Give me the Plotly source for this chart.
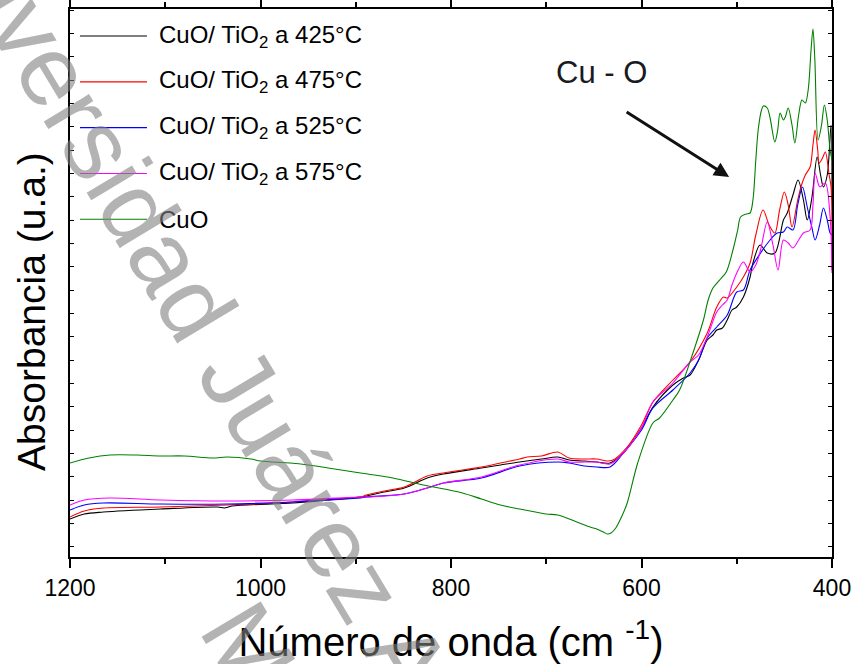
import plotly.graph_objects as go

# ---------------- data ----------------
wn_425 = [1200, 1185, 1165, 1105, 1045, 1038, 1030, 966, 930, 895, 889, 870, 849, 825, 808, 768, 748, 728, 705, 688,
          676, 660, 647, 633, 619, 600, 588, 567, 556, 549, 540, 531, 525, 521, 515, 510, 505, 500, 493, 486,
          483, 475.5, 468, 460, 451, 447, 441, 435.6, 430, 426, 421, 415.6, 412, 409, 405, 401, 400]
ab_425 = [0.38, 0.43, 0.45, 0.48, 0.50, 0.49, 0.51, 0.54, 0.57, 0.60, 0.61, 0.65, 0.69, 0.79, 0.83, 0.89, 0.92, 0.95, 0.98, 1.00,
          0.97, 0.96, 0.95, 0.94, 1.04, 1.29, 1.50, 1.72, 1.79, 1.82, 1.97, 2.17, 2.22, 2.27, 2.29, 2.37, 2.47, 2.50, 2.60, 2.80,
          2.94, 3.12, 3.04, 3.04, 3.37, 3.44, 3.62, 3.77, 3.57, 3.37, 3.60, 4.00, 3.82, 3.70, 3.82, 4.32, 3.57]

wn_475 = [1200, 1185, 1165, 1105, 1035, 966, 930, 895, 889, 870, 849, 825, 808, 768, 748, 728, 720, 705, 688, 676,
          660, 647, 636, 630, 615, 600, 588, 567, 549, 531, 521, 514, 510, 500, 493, 486, 480, 472.4, 466, 460,
          455, 450, 446, 442, 436, 432, 428, 423, 420, 417.75, 415, 413.5, 410, 407, 403, 401, 400]
ab_475 = [0.40, 0.46, 0.49, 0.50, 0.52, 0.55, 0.58, 0.60, 0.62, 0.66, 0.70, 0.81, 0.84, 0.90, 0.94, 0.98, 1.00, 1.01, 1.05, 0.99,
          0.98, 0.98, 0.96, 0.97, 1.10, 1.32, 1.55, 1.77, 1.95, 2.24, 2.50, 2.60, 2.59, 2.70, 2.80, 2.94, 3.22, 3.47, 3.32, 3.24,
          3.47, 3.65, 3.52, 3.30, 3.57, 3.72, 3.82, 3.90, 4.12, 4.27, 4.07, 3.94, 3.99, 4.05, 3.82, 3.70, 2.87]

wn_525 = [1200, 1185, 1165, 1105, 1035, 966, 930, 895, 889, 849, 825, 808, 768, 728, 688, 676, 660, 647, 633, 619,
          600, 588, 567, 549, 540, 531, 521, 510, 500, 493, 486, 475, 465, 457.6, 451, 447, 441, 436, 431, 426,
          421, 417.75, 413, 409, 405, 402, 400]
ab_525 = [0.47, 0.52, 0.54, 0.53, 0.53, 0.55, 0.57, 0.59, 0.60, 0.63, 0.69, 0.74, 0.79, 0.91, 0.95, 0.94, 0.91, 0.90, 0.90, 1.04,
          1.27, 1.49, 1.67, 1.84, 1.97, 2.19, 2.30, 2.42, 2.65, 2.67, 2.87, 3.04, 3.17, 3.24, 3.25, 3.30, 3.27, 3.52, 3.70, 3.50,
          3.29, 3.17, 3.32, 3.49, 3.37, 3.24, 3.22]

wn_575 = [1200, 1185, 1158, 1105, 1035, 966, 895, 889, 849, 825, 808, 768, 728, 688, 676, 660, 647, 633, 619, 600,
          588, 567, 549, 540, 531, 521, 515, 510, 505, 500, 493, 486, 480, 475, 468, 462, 456.6, 451, 446, 441,
          435, 430, 423, 420, 417.75, 414, 412.5, 407, 402, 400]
ab_575 = [0.52, 0.57, 0.59, 0.57, 0.56, 0.57, 0.60, 0.60, 0.63, 0.69, 0.74, 0.80, 0.92, 0.98, 0.95, 0.95, 0.95, 0.93, 1.04, 1.29,
          1.55, 1.74, 1.95, 2.02, 2.20, 2.45, 2.52, 2.57, 2.72, 2.84, 2.95, 2.85, 2.92, 3.07, 3.35, 3.12, 2.87, 3.17, 3.14, 3.09,
          3.17, 3.24, 3.27, 3.52, 3.84, 3.72, 3.70, 3.74, 3.40, 2.84]

wn_cuo = [1200, 1180, 1158, 1130, 1105, 1080, 1050, 1035, 1010, 1000, 969, 950, 929, 895, 861, 829, 788, 768, 748, 728,
          700, 688, 668, 654, 647, 640, 636, 632, 627, 621, 615, 604, 588, 581, 567, 560, 546, 535, 530, 525,
          517, 511, 504, 499, 496, 490, 486, 483, 480, 477.5, 474, 472, 468, 465, 460, 457, 454.5, 451, 449, 446,
          442, 439, 435, 431.5, 428, 425, 422, 420, 418, 414.6, 411, 408, 405, 402, 400]
ab_cuo = [0.94, 0.99, 1.02, 1.02, 1.01, 1.01, 0.99, 1.00, 0.98, 0.96, 0.94, 0.92, 0.89, 0.84, 0.79, 0.72, 0.64, 0.58, 0.52, 0.48,
          0.43, 0.42, 0.35, 0.30, 0.28, 0.25, 0.23, 0.24, 0.29, 0.40, 0.54, 0.94, 1.34, 1.39, 1.57, 1.67, 2.04, 2.37, 2.57, 2.69,
          2.78, 2.85, 3.07, 3.27, 3.40, 3.43, 3.44, 3.57, 3.97, 4.27, 4.47, 4.51, 4.49, 4.39, 4.15, 4.27, 4.44, 4.37, 4.40, 4.49,
          4.32, 4.14, 4.42, 4.57, 4.54, 4.67, 5.07, 5.28, 4.97, 4.17, 4.32, 4.52, 4.37, 4.07, 3.97]

series_names = ["CuO/ TiO<sub>2</sub> a 425°C", "CuO/ TiO<sub>2</sub> a 475°C",
                "CuO/ TiO<sub>2</sub> a 525°C", "CuO/ TiO<sub>2</sub> a 575°C", "CuO"]
series_x = [wn_425, wn_475, wn_525, wn_575, wn_cuo]
series_y = [ab_425, ab_475, ab_525, ab_575, ab_cuo]
series_colors = ["#000000", "#FF0000", "#0000FF", "#FF00FF", "#008000"]

x_ticks = [1200, 1000, 800, 600, 400]
x_range = [1200, 400]
y_range = [0, 5.48]

FONT = "Liberation Sans, Arial, sans-serif"

fig = go.Figure()
for name, xs, ys, col in zip(series_names, series_x, series_y, series_colors):
    fig.add_trace(go.Scatter(x=xs, y=ys, mode="lines", name=name,
                             line=dict(color=col, width=1.1, shape="spline", smoothing=0.9),
                             showlegend=False))

# manual legend (long line samples like the original)
row0, row_gap = 0.9507, 0.0836
for i, (name, col) in enumerate(zip(series_names, series_colors)):
    yy = row0 - i * row_gap
    fig.add_shape(type="line", xref="paper", yref="paper", x0=0.0131, x1=0.101, y0=yy, y1=yy,
                  line=dict(color=col, width=1.1))
    fig.add_annotation(xref="paper", yref="paper", x=0.1142, y=yy, xanchor="left", yanchor="middle",
                       text=name, showarrow=False, font=dict(family=FONT, size=24, color="black"))

# Cu - O label and arrow
fig.add_annotation(x=642, y=4.85, xref="x", yref="y", text="Cu - O", showarrow=False,
                   font=dict(family=FONT, size=31, color="#1a1a22"))
fig.add_annotation(x=508, y=3.80, xref="x", yref="y", text="", showarrow=True,
                   ax=-104, ay=-66, arrowhead=2, arrowsize=1, arrowwidth=3, arrowcolor="#111111")

# y axis title
fig.add_annotation(xref="paper", yref="paper", x=-0.0499, y=0.449, xanchor="center", yanchor="middle",
                   text="Absorbancia (u.a.)", textangle=-90, showarrow=False,
                   font=dict(family=FONT, size=39, color="black"))

# watermark
fig.add_annotation(xref="paper", yref="paper", x=0.387, y=-0.2865, xanchor="center", yanchor="middle",
                   text="Universidad Juárez Autónoma de Tabasco<br>México", showarrow=False, textangle=59,
                   font=dict(family=FONT, size=100, color="rgba(128,128,128,0.6)"))

fig.update_layout(
    width=855, height=664,
    margin=dict(l=70, r=23, t=9, b=107),
    paper_bgcolor="white", plot_bgcolor="white",
    font=dict(family=FONT, color="black"),
    xaxis=dict(range=x_range, tickvals=x_ticks, ticks="outside", ticklen=9, tickwidth=1.5,
               tickcolor="black", tickfont=dict(size=23, family=FONT), automargin=False,
               minor=dict(dtick=100, ticks="outside", ticklen=5, tickwidth=1.5, tickcolor="black"),
               showline=True, linecolor="black", linewidth=2, mirror="ticks", showgrid=False, zeroline=False,
               title=dict(text="Número de onda (cm <sup>-1</sup>)", font=dict(size=40, family=FONT), standoff=28)),
    yaxis=dict(range=y_range, showticklabels=False, ticks="inside", ticklen=4, tickwidth=1,
               tick0=0.103, dtick=0.2333, tickcolor="black", automargin=False,
               showline=True, linecolor="black", linewidth=2, mirror="ticks", showgrid=False, zeroline=False),
)

fig.write_html("out.html")
